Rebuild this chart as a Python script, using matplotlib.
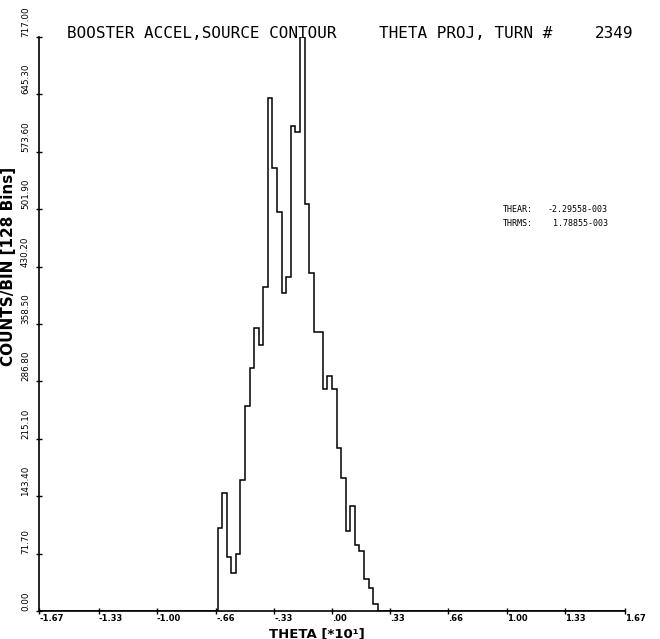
import numpy as np
import matplotlib
matplotlib.use("Agg")
import matplotlib.pyplot as plt

# ---- data ----
n_bins = 128
x_min, x_max = -1.67, 1.67
first_bin = 39
counts_nonzero = [104, 148, 67, 48, 71, 164, 256, 303, 353, 332,
                  405, 641, 553, 498, 397, 417, 606, 598, 717, 509,
                  422, 349, 349, 277, 294, 277, 204, 166, 100, 131,
                  83, 75, 40, 29, 9]
x_ticks = [-1.67, -1.33, -1.00, -0.66, -0.33, 0.00, 0.33, 0.66, 1.00, 1.33, 1.67]
x_tick_labels = ["-1.67", "-1.33", "-1.00", "-.66", "-.33", ".00", ".33", ".66", "1.00", "1.33", "1.67"]
y_ticks = [0.0, 71.7, 143.4, 215.1, 286.8, 358.5, 430.2, 501.9, 573.6, 645.3, 717.0]
y_tick_labels = ["0.00", "71.70", "143.40", "215.10", "286.80", "358.50",
                 "430.20", "501.90", "573.60", "645.30", "717.00"]
title_left = "BOOSTER ACCEL,SOURCE CONTOUR"
title_mid = "THETA PROJ, TURN #"
turn_number = "2349"
stat_names = ["THEAR:", "THRMS:"]
stat_values = ["-2.29558-003", " 1.78855-003"]

edges = np.linspace(x_min, x_max, n_bins + 1)
counts = np.zeros(n_bins)
counts[first_bin:first_bin + len(counts_nonzero)] = counts_nonzero

W, H = 660, 639
fig = plt.figure(figsize=(W / 100, H / 100), dpi=100)
fig.patch.set_facecolor("white")
ax = fig.add_axes([39 / W, 1 - 611 / H, (625 - 39) / W, (611 - 37) / H])
ax.set_facecolor("white")

ax.stairs(counts, edges, color="black", linewidth=1.1)

ax.set_xlim(x_min, x_max)
ax.set_ylim(0, 717)
for s in ["top", "right"]:
    ax.spines[s].set_visible(False)
for s in ["left", "bottom"]:
    ax.spines[s].set_linewidth(1.2)
    ax.spines[s].set_color("black")

ax.set_xticks(x_ticks)
ax.set_xticklabels(x_tick_labels, fontsize=6, fontweight="bold", ha="left")
ax.set_yticks(y_ticks)
ax.set_yticklabels(y_tick_labels, fontsize=6.3, rotation=90, va="bottom", ha="right")
ax.tick_params(axis="both", direction="inout", length=5, width=1, color="black")
ax.tick_params(axis="x", pad=0)
ax.tick_params(axis="y", pad=4)

mono = "DejaVu Sans Mono"
fig.text(67 / W, 1 - 33 / H, title_left, fontsize=11.5, family=mono, va="center", ha="left")
fig.text(379 / W, 1 - 33 / H, title_mid, fontsize=11.5, family=mono, va="center", ha="left")
fig.text(595 / W, 1 - 33 / H, turn_number, fontsize=11.5, family=mono, va="center", ha="left")

for i, (nm, val) in enumerate(zip(stat_names, stat_values)):
    yy = 1 - (209 + 15 * i) / H
    fig.text(503 / W, yy, nm, fontsize=6, family=mono, va="center", ha="left")
    fig.text(548 / W, yy, val, fontsize=6, family=mono, va="center", ha="left")

fig.text(317 / W, 1 - 633.5 / H, "THETA [*10\u00b9]", fontsize=9.5, fontweight="bold",
         ha="center", va="center")
fig.text(9 / W, 1 - 266 / H, "COUNTS/BIN [128 Bins]", fontsize=11, fontweight="bold",
         rotation=90, ha="center", va="center")

fig.savefig("out.png", dpi=100, facecolor="white")
